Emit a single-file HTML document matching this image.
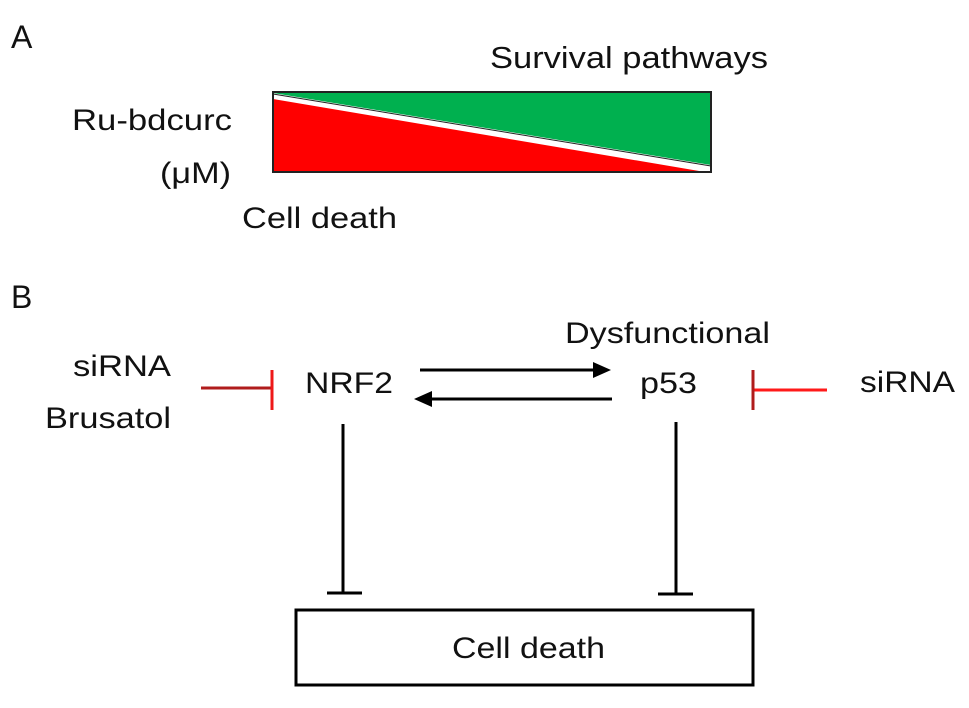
<!DOCTYPE html>
<html><head><style>
body{margin:0;background:#fff;}
text{font-family:"Liberation Sans",sans-serif;fill:#111;}
</style></head><body>
<svg width="969" height="703" viewBox="0 0 969 703" xmlns="http://www.w3.org/2000/svg">
<text x="11" y="48" font-size="32">A</text>
<text x="490" y="68" font-size="31" textLength="278" lengthAdjust="spacingAndGlyphs">Survival pathways</text>
<text x="72" y="130" font-size="30" textLength="160" lengthAdjust="spacingAndGlyphs">Ru-bdcurc</text>
<text x="160" y="183" font-size="30" textLength="71" lengthAdjust="spacingAndGlyphs">(μM)</text>
<text x="242" y="228" font-size="30" textLength="155" lengthAdjust="spacingAndGlyphs">Cell death</text>
<polygon points="273,93 711,93 711,165" fill="#00b04f"/>
<polygon points="273,99 273,172 705,172" fill="#ff0000"/>
<line x1="273" y1="96" x2="711" y2="169" stroke="#fff" stroke-width="3"/>
<line x1="273" y1="94" x2="711" y2="166" stroke="#222" stroke-width="1"/>
<rect x="273" y="92" width="438" height="80" fill="none" stroke="#222" stroke-width="2"/>
<text x="11" y="308" font-size="32">B</text>
<text x="565" y="343" font-size="30" textLength="205" lengthAdjust="spacingAndGlyphs">Dysfunctional</text>
<text x="73" y="376" font-size="30" textLength="98" lengthAdjust="spacingAndGlyphs">siRNA</text>
<text x="45" y="428" font-size="30" textLength="126" lengthAdjust="spacingAndGlyphs">Brusatol</text>
<text x="305" y="393" font-size="30" textLength="88" lengthAdjust="spacingAndGlyphs">NRF2</text>
<text x="640" y="393" font-size="30" textLength="57" lengthAdjust="spacingAndGlyphs">p53</text>
<text x="860" y="392" font-size="30" textLength="95" lengthAdjust="spacingAndGlyphs">siRNA</text>
<line x1="201" y1="388" x2="272" y2="388" stroke="#b01c1c" stroke-width="3"/>
<line x1="272" y1="370" x2="272" y2="410" stroke="#ee1818" stroke-width="3"/>
<line x1="753" y1="390" x2="827" y2="390" stroke="#ff1a1a" stroke-width="3"/>
<line x1="753" y1="370" x2="753" y2="410" stroke="#b01c1c" stroke-width="3"/>
<line x1="420" y1="370" x2="594" y2="370" stroke="#000" stroke-width="3"/>
<polygon points="611,370 593,362 593,378" fill="#000"/>
<line x1="432" y1="399" x2="612" y2="399" stroke="#000" stroke-width="3"/>
<polygon points="414,399 432,391 432,407" fill="#000"/>
<line x1="343" y1="424" x2="343" y2="593" stroke="#000" stroke-width="3"/>
<line x1="327" y1="593" x2="362" y2="593" stroke="#000" stroke-width="3"/>
<line x1="676" y1="422" x2="676" y2="594" stroke="#000" stroke-width="3"/>
<line x1="658" y1="594" x2="693" y2="594" stroke="#000" stroke-width="3"/>
<rect x="296" y="610" width="457" height="75" fill="none" stroke="#000" stroke-width="3"/>
<text x="452" y="658" font-size="30" textLength="153" lengthAdjust="spacingAndGlyphs">Cell death</text>
</svg>
</body></html>
